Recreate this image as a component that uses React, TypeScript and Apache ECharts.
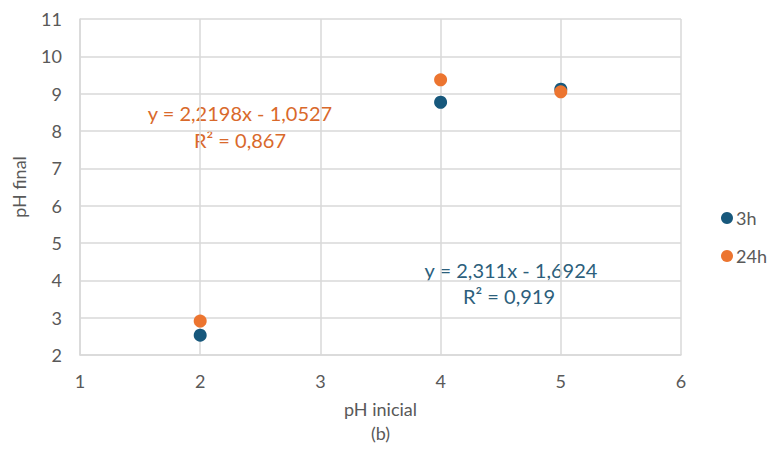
import React, { useEffect, useRef } from "react";
import * as echarts from "echarts";

const xValues = [2, 4, 5];
const series3h = [2.53, 8.77, 9.12];
const series24h = [2.91, 9.37, 9.05];
const seriesNames = ["3h", "24h"];
const eq24h = ["y = 2,2198x - 1,0527", "R² = 0,867"];
const eq3h = ["y = 2,311x - 1,6924", "R² = 0,919"];

const BLUE = "#17587c";
const ORANGE = "#ec7530";
const TEXT = "#595959";
const GRID = "#d9d9d9";
const FONT = "Lato, 'Open Sans', sans-serif";

export default function App() {
  const ref = useRef<HTMLDivElement>(null);
  useEffect(() => {
    if (!ref.current) return;
    const chart = echarts.init(ref.current, undefined, { renderer: "svg" });
    chart.setOption({
      animation: false,
      backgroundColor: "#ffffff",
      textStyle: { fontFamily: FONT },
      grid: { left: 80, right: 88, top: 19, bottom: 97, outerBoundsMode: "none", containLabel: false },
      xAxis: {
        type: "value",
        min: 1,
        max: 6,
        interval: 1,
        name: "pH inicial\n(b)",
        nameLocation: "middle",
        nameGap: 42,
        nameTextStyle: { color: TEXT, fontSize: 18, lineHeight: 24, fontFamily: FONT },
        axisLine: { show: true, lineStyle: { color: GRID, width: 1.5 } },
        axisTick: { show: false },
        axisLabel: { color: TEXT, fontSize: 18, margin: 17, fontFamily: FONT },
        splitLine: { show: true, lineStyle: { color: GRID, width: 1.5 } },
      },
      yAxis: {
        type: "value",
        min: 2,
        max: 11,
        interval: 1,
        name: "pH final",
        nameLocation: "middle",
        nameGap: 52,
        nameTextStyle: { color: TEXT, fontSize: 18, fontFamily: FONT },
        axisLine: { show: true, lineStyle: { color: GRID, width: 1.5 } },
        axisTick: { show: false },
        axisLabel: { color: TEXT, fontSize: 18, margin: 18, fontFamily: FONT },
        splitLine: { show: true, lineStyle: { color: GRID, width: 1.5 } },
      },
      legend: {
        orient: "vertical",
        left: 716,
        top: 204,
        itemWidth: 12,
        itemHeight: 12,
        itemGap: 20,
        icon: "circle",
        textStyle: { color: TEXT, fontSize: 18, fontFamily: FONT, padding: [0, 0, 0, -2] },
        data: seriesNames,
      },
      series: [
        {
          name: seriesNames[0],
          type: "scatter",
          symbolSize: 13,
          itemStyle: { color: BLUE, opacity: 1 },
          data: xValues.map((x, i) => [x, series3h[i]]),
          z: 2,
        },
        {
          name: seriesNames[1],
          type: "scatter",
          symbolSize: 13,
          itemStyle: { color: ORANGE, opacity: 1 },
          data: xValues.map((x, i) => [x, series24h[i]]),
          z: 3,
        },
      ],
      graphic: [
        {
          type: "text",
          x: 240,
          y: 113,
          style: {
            text: eq24h[0],
            fill: "#d9692b",
            fontSize: 20,
            fontFamily: FONT,
            align: "center",
            verticalAlign: "middle",
          },
        },
        {
          type: "text",
          x: 240,
          y: 140,
          style: {
            text: eq24h[1],
            fill: "#d9692b",
            fontSize: 20,
            fontFamily: FONT,
            align: "center",
            verticalAlign: "middle",
          },
        },
        {
          type: "text",
          x: 511,
          y: 270,
          style: {
            text: eq3h[0],
            fill: "#2d5f7c",
            fontSize: 20,
            fontFamily: FONT,
            align: "center",
            verticalAlign: "middle",
          },
        },
        {
          type: "text",
          x: 509,
          y: 296,
          style: {
            text: eq3h[1],
            fill: "#2d5f7c",
            fontSize: 20,
            fontFamily: FONT,
            align: "center",
            verticalAlign: "middle",
          },
        },
      ],
    });
    return () => chart.dispose();
  }, []);
  return (
    <div
      ref={ref}
      style={{ position: "fixed", left: 0, top: 0, width: 769, height: 452 }}
    />
  );
}
